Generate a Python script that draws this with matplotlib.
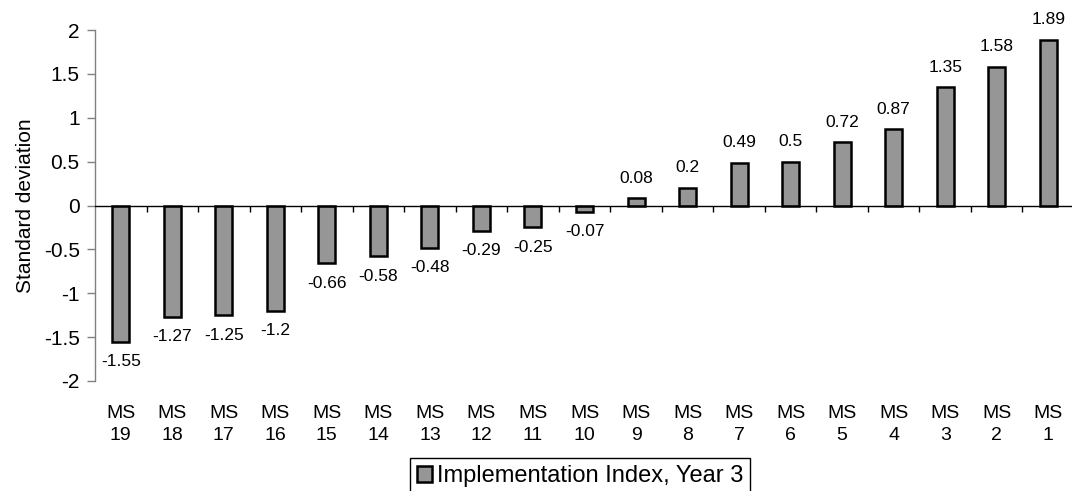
import matplotlib
matplotlib.use("Agg")
import matplotlib.pyplot as plt
import numpy as np

plt.rcParams['font.family'] = ['Liberation Sans', 'DejaVu Sans']

categories = ['MS\n19', 'MS\n18', 'MS\n17', 'MS\n16', 'MS\n15', 'MS\n14', 'MS\n13',
              'MS\n12', 'MS\n11', 'MS\n10', 'MS\n9', 'MS\n8', 'MS\n7', 'MS\n6',
              'MS\n5', 'MS\n4', 'MS\n3', 'MS\n2', 'MS\n1']
values = [-1.55, -1.27, -1.25, -1.2, -0.66, -0.58, -0.48, -0.29, -0.25, -0.07,
          0.08, 0.2, 0.49, 0.5, 0.72, 0.87, 1.35, 1.58, 1.89]
yticks = [-2, -1.5, -1, -0.5, 0, 0.5, 1, 1.5, 2]
seriesName = 'Implementation Index, Year 3'

W, H = 1072, 491
fig = plt.figure(figsize=(W / 100, H / 100), dpi=100)
ax = fig.add_axes([95 / W, 1 - 381 / H, (1074 - 95) / W, (381 - 30) / H])

x = np.arange(len(values))
ax.bar(x, values, width=0.33, color='#969696', edgecolor='black',
       linewidth=1.8, label=seriesName, zorder=3)

for xi, v in zip(x, values):
    off = 9 if v >= 0 else -9
    ax.annotate(f'{v:g}', (xi, v), xytext=(0, off), textcoords='offset points',
                ha='center', va='bottom' if v >= 0 else 'top', fontsize=12.5)

ax.set_xlim(-0.5, len(values) - 0.5)
ax.set_ylim(-2, 2)
ax.set_yticks(yticks)
ax.set_yticklabels([f'{t:g}' for t in yticks], fontsize=15)
ax.set_xticks(x)
ax.set_xticklabels(categories, fontsize=14, linespacing=1.4)
ax.tick_params(axis='x', length=0, pad=17)
ax.tick_params(axis='y', length=6, width=1, color='#808080', pad=5)

for s in ['top', 'right', 'bottom']:
    ax.spines[s].set_visible(False)
ax.spines['left'].set_color('#808080')
ax.spines['left'].set_linewidth(1)

# zero line with category divider ticks
ax.axhline(0, color='black', linewidth=1, zorder=4)
bounds = np.arange(len(values) + 1) - 0.5
ax.vlines(bounds[1:], 0, -0.07, color='black', linewidth=1, zorder=4)

ax.set_ylabel('Standard deviation', fontsize=15, labelpad=6)

leg = ax.legend(loc='upper center', bbox_to_anchor=(0.541, 1 - 458 / H),
                bbox_transform=fig.transFigure, fontsize=17, frameon=True,
                fancybox=False, framealpha=1, edgecolor='black',
                handlelength=0.65, handleheight=0.65, handletextpad=0.2,
                borderpad=0.3, borderaxespad=0)
leg.get_frame().set_linewidth(1)

fig.savefig('out.png', dpi=100)
